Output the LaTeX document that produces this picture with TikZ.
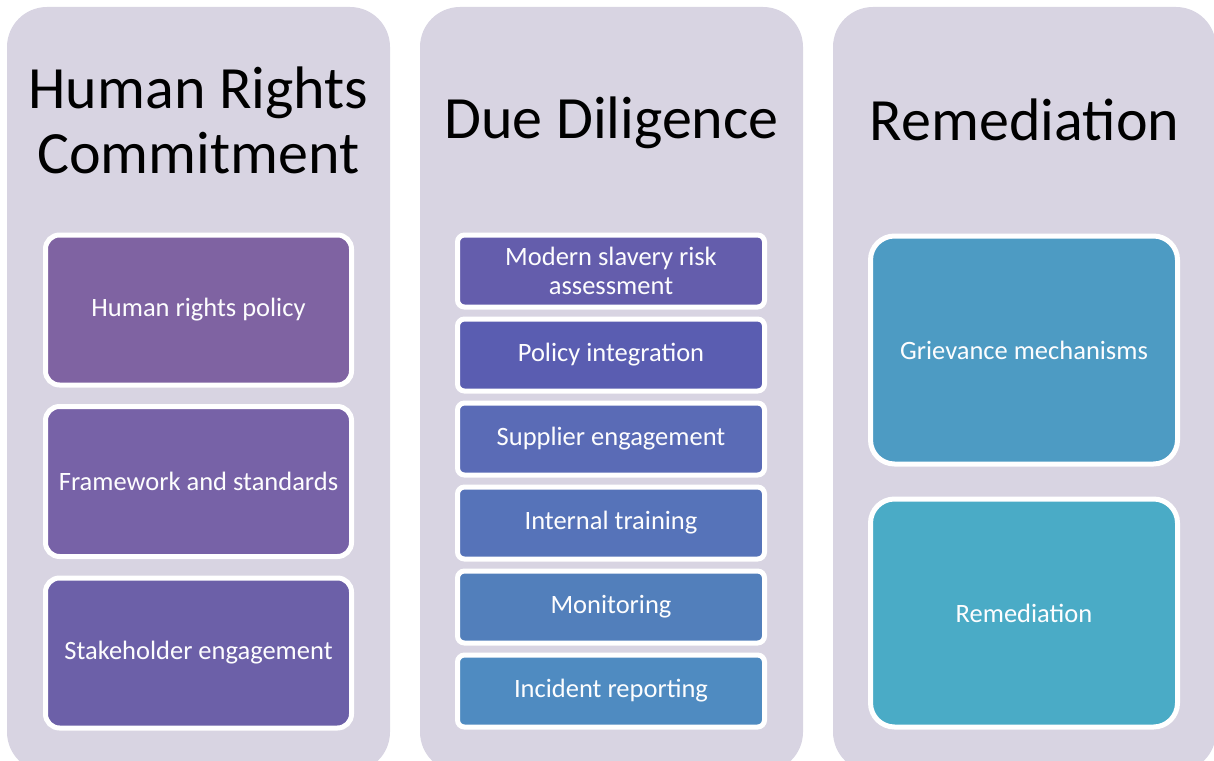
\documentclass[tikz,border=0pt]{standalone}
\usepackage{fontspec}
\setmainfont{Carlito}
\usetikzlibrary{positioning}

\definecolor{colbg}{HTML}{D8D4E2}
\definecolor{hrA}{HTML}{7F63A2}
\definecolor{hrB}{HTML}{7762A7}
\definecolor{hrC}{HTML}{6C60A8}
\definecolor{ddA}{HTML}{645DAC}
\definecolor{ddB}{HTML}{5A5DB1}
\definecolor{ddC}{HTML}{5A6BB6}
\definecolor{ddD}{HTML}{5673B9}
\definecolor{ddE}{HTML}{527FBB}
\definecolor{ddF}{HTML}{4F8BC1}
\definecolor{rmA}{HTML}{4D9BC3}
\definecolor{rmB}{HTML}{4AABC6}

\begin{document}
\begin{tikzpicture} [x=1pt, y=-1pt,
            node distance = 84pt,
            on grid]
            \tikzstyle{column}=[fill=colbg, rounded corners=40pt,
                minimum width=383pt, minimum height=765pt]
            \tikzstyle{title}=[font=\fontsize{60}{65}\selectfont, align=center]
            \tikzstyle{item}=[draw=white, line width=5pt, text=white!96!colbg,
                font=\fontsize{26.5}{29}\selectfont, align=center]
            \tikzstyle{bigitem}=[item, rounded corners=14pt,
                minimum width=306pt, minimum height=150pt]
            \tikzstyle{smallitem}=[item, rounded corners=7pt,
                minimum width=307pt, minimum height=72pt]
            \tikzstyle{tallitem}=[item, rounded corners=24pt,
                minimum width=307pt, minimum height=228pt]

            \useasboundingbox (0,0) rectangle (1214,760);
            \clip (0,0) rectangle (1214,760);

            % Columns
            \node (col1) [column] at (198.5,389.5) {};
            \node (col2) [column] at (611.5,389.5) {};
            \node (col3) [column] at (1024.5,389.5) {};

            % Titles
            \node (t1) [title] at (198.5,120) {Human Rights\\Commitment};
            \node (t2) [title] at (611.5,123) {Due Diligence};
            \node (t3) [title] at (1024.5,120) {Remediation};

            % Human Rights Commitment
            \node (policy) [bigitem, fill=hrA] at (198.5,310) {Human rights policy};
            \node (frame) [bigitem, fill=hrB,
                below = 171.5pt of policy] {Framework and standards};
            \node (stake) [bigitem, fill=hrC,
                below = 171.5pt of frame] {Stakeholder engagement};

            % Due Diligence
            \node (risk) [smallitem, fill=ddA] at (611,271) {Modern slavery risk\\assessment};
            \node (integ) [smallitem, fill=ddB,
                below = of risk] {Policy integration};
            \node (supp) [smallitem, fill=ddC,
                below = of integ] {Supplier engagement};
            \node (train) [smallitem, fill=ddD,
                below = of supp] {Internal training};
            \node (monit) [smallitem, fill=ddE,
                below = of train] {Monitoring};
            \node (incid) [smallitem, fill=ddF,
                below = of monit] {Incident reporting};

            % Remediation
            \node (griev) [tallitem, fill=rmA] at (1024,350) {Grievance mechanisms};
            \node (remed) [tallitem, fill=rmB,
                below = 263pt of griev] {Remediation};
        \end{tikzpicture}
\end{document}
